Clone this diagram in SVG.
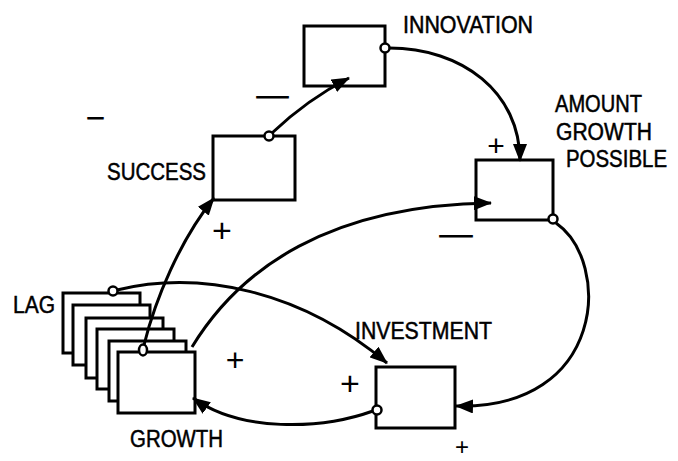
<svg xmlns="http://www.w3.org/2000/svg" width="678" height="461" viewBox="0 0 678 461">
<style>
.box{fill:#fff;stroke:#000;stroke-width:3}
.port{fill:#fff;stroke:#000;stroke-width:2.5}
.lbl{font-family:"Liberation Sans",Arial,sans-serif;font-size:23px;fill:#000;stroke:#000;stroke-width:0.5}
.sign{font-family:"Liberation Sans",Arial,sans-serif;fill:#000;text-anchor:middle}
.dash{font-family:"Liberation Sans",Arial,sans-serif;font-size:22px;fill:#000;stroke:#000;stroke-width:1.2}
.conn{fill:none;stroke:#000;stroke-width:3;marker-end:url(#arr)}
</style>
<defs>
<marker id="arr" markerUnits="userSpaceOnUse" markerWidth="18" markerHeight="14" viewBox="0 0 18 14" refX="17" refY="7" orient="auto">
<path d="M0,0 L18,7 L0,14 Z" fill="#000"/>
</marker>
</defs>
<rect width="678" height="461" fill="#fff"/>
<g id="innovation">
<rect class="box" x="304" y="26" width="81" height="60"/>
<text class="lbl" x="403" y="33" textLength="130" lengthAdjust="spacingAndGlyphs">INNOVATION</text>
</g>
<g id="success">
<rect class="box" x="213" y="136" width="82" height="64"/>
<text class="lbl" x="107" y="180" textLength="99" lengthAdjust="spacingAndGlyphs">SUCCESS</text>
</g>
<g id="amount-growth-possible">
<rect class="box" x="476" y="160" width="77" height="60"/>
<text class="lbl" x="555" y="112" textLength="87" lengthAdjust="spacingAndGlyphs">AMOUNT</text>
<text class="lbl" x="556" y="140" textLength="96" lengthAdjust="spacingAndGlyphs">GROWTH</text>
<text class="lbl" x="566" y="167" font-size="21" textLength="101" lengthAdjust="spacingAndGlyphs">POSSIBLE</text>
</g>
<g id="investment">
<rect class="box" x="376" y="367" width="79" height="61"/>
<text class="lbl" x="355" y="339" textLength="137" lengthAdjust="spacingAndGlyphs">INVESTMENT</text>
</g>
<g id="growth-lag">
<rect class="box" x="63" y="293" width="77" height="60"/>
<rect class="box" x="73" y="305" width="77" height="60"/>
<rect class="box" x="86" y="318" width="77" height="60"/>
<rect class="box" x="97" y="329" width="77" height="60"/>
<rect class="box" x="109" y="341" width="77" height="60"/>
<rect class="box" x="118" y="352" width="77" height="61"/>
<text class="lbl" x="13" y="313" textLength="42" lengthAdjust="spacingAndGlyphs">LAG</text>
<text class="lbl" x="130" y="447" textLength="93" lengthAdjust="spacingAndGlyphs">GROWTH</text>
</g>
<g id="connectors">
<path class="conn" d="M272 133 C292 114 316 95 349 78"/>
<path class="conn" d="M389 48 C462 48 520 92 520 161"/>
<path class="conn" d="M556 223 C612 262 606 410 456 406"/>
<path class="conn" d="M373 411 C320 430 240 432 193 398"/>
<path class="conn" d="M192 347 C240 268 330 205 491 203"/>
<path class="conn" d="M144 345 C155 300 180 240 214 198"/>
<path class="conn" d="M117 290 C200 270 300 290 387 363"/>
</g>
<g id="ports">
<circle class="port" cx="385" cy="48" r="4.5"/>
<circle class="port" cx="269" cy="136" r="4.5"/>
<circle class="port" cx="553" cy="219" r="4.5"/>
<circle class="port" cx="377" cy="410" r="4.5"/>
<circle class="port" cx="113" cy="291" r="4.5"/>
<ellipse class="port" cx="143" cy="350" rx="4" ry="5.5"/>
</g>
<g id="polarities">
<text class="sign" x="222" y="242" font-size="34">+</text>
<text class="sign" x="496" y="156" font-size="30">+</text>
<text class="sign" x="235" y="371" font-size="32">+</text>
<text class="sign" x="350" y="395" font-size="34">+</text>
<text class="sign" x="462" y="455" font-size="24">+</text>
<text class="dash" x="257" y="103" textLength="31" lengthAdjust="spacingAndGlyphs">—</text>
<text class="dash" x="88" y="124" textLength="15" lengthAdjust="spacingAndGlyphs">–</text>
<text class="dash" x="440" y="242" textLength="32" lengthAdjust="spacingAndGlyphs">—</text>
</g>
</svg>
